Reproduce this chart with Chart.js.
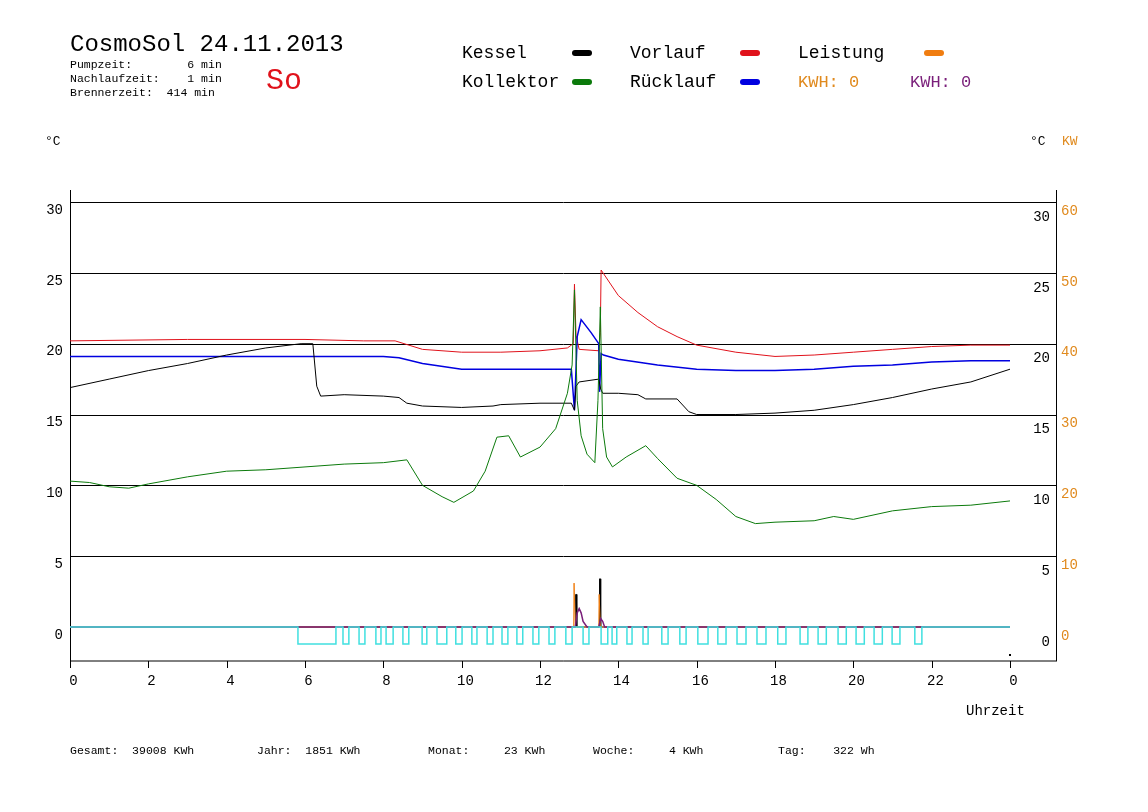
<!DOCTYPE html>
<html><head><meta charset="utf-8">
<script src="https://cdn.jsdelivr.net/npm/chart.js@4"></script>
<style>html,body{margin:0;padding:0;background:#fff}#c{display:block}</style>
</head><body>
<canvas id="c" width="1148" height="812"></canvas>
<script>
// ---- data ----
const kesselH = [0,1,2,3,4,5,5.9,6.2,6.3,6.4,7,8,8.4,8.6,9,10,10.8,11,12,12.8,12.88,12.92,13.0,13.5,13.55,13.6,14,14.5,14.7,15.5,15.8,16,17,18,19,20,21,22,23,24];
const kesselT = [16.9,17.5,18.1,18.6,19.2,19.7,20.0,20.0,17.0,16.3,16.4,16.3,16.2,15.8,15.6,15.5,15.6,15.7,15.8,15.8,15.3,17.0,17.3,17.5,16.8,16.5,16.5,16.4,16.1,16.1,15.2,15.0,15.0,15.1,15.3,15.7,16.2,16.8,17.3,18.2];
const vorlaufH = [0,3,6,7.5,8.3,9,10,11,12,12.7,12.85,12.88,12.92,13.0,13.5,13.54,13.56,14,14.5,15,15.5,16,17,18,19,20,21,22,23,24];
const vorlaufT = [20.2,20.3,20.3,20.2,20.2,19.6,19.4,19.4,19.5,19.7,20.0,24.2,20.6,19.6,19.5,20.8,25.2,23.4,22.2,21.2,20.5,19.9,19.4,19.1,19.2,19.4,19.6,19.8,19.9,19.9];
const ruecklaufH = [0,8,8.4,9,10,11,12,12.8,12.88,12.95,13.05,13.3,13.5,13.52,13.56,13.62,14,15,16,17,18,19,20,21,22,23,24];
const ruecklaufT = [19.1,19.1,19.0,18.6,18.2,18.2,18.2,18.2,15.3,20.5,21.7,20.8,20.0,16.6,19.3,19.2,18.9,18.5,18.2,18.1,18.1,18.2,18.4,18.5,18.7,18.8,18.8];
const kollektorH = [0,0.5,1,1.5,2,3,4,5,6,7,8,8.6,9,9.5,9.8,10.3,10.6,10.9,11.2,11.5,12,12.4,12.7,12.82,12.88,12.95,13.05,13.2,13.4,13.48,13.54,13.6,13.7,13.85,14.2,14.7,15.0,15.5,16,16.5,17,17.5,18,19,19.5,20,21,22,23,24];
const kollektorT = [10.3,10.2,9.9,9.8,10.1,10.6,11.0,11.1,11.3,11.5,11.6,11.8,10.0,9.2,8.8,9.6,11.0,13.4,13.5,12.0,12.7,14.0,16.5,18.5,23.8,16,13.5,12.2,11.6,16.0,22.6,14,12.0,11.3,12.0,12.8,11.9,10.5,10.0,9.0,7.8,7.3,7.4,7.5,7.8,7.6,8.2,8.5,8.6,8.9];
const pumpOff = [[5.82,6.79],[6.97,7.12],[7.38,7.53],[7.81,7.94],[8.07,8.25],[8.50,8.65],[8.99,9.11],[9.37,9.62],[9.85,10.01],[10.26,10.39],[10.65,10.80],[11.03,11.18],[11.41,11.56],[11.82,11.97],[12.23,12.38],[12.66,12.82],[13.10,13.25],[13.56,13.73],[13.84,13.96],[14.22,14.35],[14.63,14.76],[15.11,15.27],[15.57,15.73],[16.03,16.29],[16.54,16.75],[17.03,17.26],[17.54,17.77],[18.07,18.28],[18.64,18.84],[19.10,19.31],[19.61,19.82],[20.07,20.28],[20.53,20.74],[20.99,21.19],[21.57,21.75]];
const pumpLow = -1.2;
const leistungH = [0,12.86,12.87,12.89,12.9,13.5,13.51,13.53,13.54,24];
const leistungT = [0,0,3.1,3.1,0,0,2.3,2.3,0,0];
const brennerH = [0,12.9,12.91,12.93,12.94,13.51,13.52,13.54,13.55,24];
const brennerT = [0,0,2.3,2.3,0,0,3.4,3.4,0,0];
const kwhH = [0,12.9,12.95,13.0,13.05,13.1,13.2,13.5,13.55,13.6,13.65,24];
const kwhT = [0,0,1.0,1.3,1.0,0.4,0,0,0.6,0.4,0,0];
const yTicks = [0,5,10,15,20,25,30];
const xTicks = [0,2,4,6,8,10,12,14,16,18,20,22,24];
const xLabels = ['0','2','4','6','8','10','12','14','16','18','20','22','0'];

const pts=(h,t)=>h.map((x,i)=>({x,y:t[i]}));
const pump=[{x:0,y:0}];
pumpOff.forEach(([a,b])=>{pump.push({x:a,y:0},{x:a,y:pumpLow},{x:b,y:pumpLow},{x:b,y:0});});
pump.push({x:24,y:0});

const F='"Liberation Mono", "DejaVu Sans Mono", monospace';
const ds=(d,c,w=1)=>({data:d,borderColor:c,borderWidth:w,pointRadius:0,fill:false,tension:0});

const deco={id:'deco',
 beforeDatasetsDraw(ch){
  const c=ch.ctx,x=ch.scales.x,y=ch.scales.y;
  const L=x.getPixelForValue(x.min),R=x.getPixelForValue(x.max),T=y.getPixelForValue(y.max),B=y.getPixelForValue(y.min);
  c.save();c.strokeStyle='#000';c.lineWidth=1;
  yTicks.forEach(v=>{if(v===0)return;const p=Math.round(y.getPixelForValue(v))+0.5;c.beginPath();c.moveTo(L,p);c.lineTo(R,p);c.stroke();});
  c.beginPath();c.moveTo(Math.round(L)+0.5,T);c.lineTo(Math.round(L)+0.5,B);c.lineTo(R,B);c.moveTo(Math.round(R)-0.5,T);c.lineTo(Math.round(R)-0.5,B);c.stroke();
  c.font='14px '+F;c.fillStyle='#000';c.textBaseline='middle';
  xTicks.forEach((v,i)=>{const p=Math.round(x.getPixelForValue(v))+0.5;c.beginPath();c.moveTo(p,B);c.lineTo(p,B+7);c.stroke();c.textAlign='center';c.fillText(xLabels[i],p+3,B+20);});
  yTicks.forEach(v=>{const p=y.getPixelForValue(v);
   c.fillStyle='#000';c.textAlign='right';c.fillText(String(v),63,p+8);
   c.fillText(String(v),1050,p+15);
   c.fillStyle='#e08a1e';c.textAlign='left';c.fillText(String(v*2),1061,p+9);});
  c.restore();
 },
 afterDraw(ch){
  const c=ch.ctx;c.save();c.textBaseline='alphabetic';c.textAlign='left';
  const t=(s,x,y,sz,col)=>{c.font=sz+'px '+F;c.fillStyle=col||'#000';c.fillText(s,x,y);};
  t('CosmoSol 24.11.2013',70,51,24);
  t('Pumpzeit:        6 min',70,68,11.5);
  t('Nachlaufzeit:    1 min',70,82,11.5);
  t('Brennerzeit:  414 min',70,96,11.5);
  t('So',266,89,30,'#e0121b');
  t('Kessel',462,58,18);t('Kollektor',462,87,18);
  t('Vorlauf',630,58,18);t('Rücklauf',630,87,18);
  t('Leistung',798,58,18);
  t('KWH: 0',798,87,17,'#e08a1e');t('KWH: 0',910,87,17,'#7a1f7a');
  const pill=(x,y,col)=>{c.strokeStyle=col;c.lineWidth=6;c.lineCap='round';c.beginPath();c.moveTo(x,y);c.lineTo(x+14,y);c.stroke();};
  pill(575,53,'#000');pill(575,82,'#0b7a0b');pill(743,53,'#e0121b');pill(743,82,'#0000e0');pill(927,53,'#f07d10');
  t('°C',45,145,13);t('°C',1030,145,13);t('KW',1062,145,13,'#e08a1e');
  t('Uhrzeit',966,715,14);
  [['Gesamt:  39008 KWh',70],['Jahr:  1851 KWh',257],['Monat:     23 KWh',428],['Woche:     4 KWh',593],['Tag:    322 Wh',778]].forEach(([s,x])=>t(s,x,754,11.5));
  c.fillStyle='#000';c.fillRect(1009,654,2,2);
  c.restore();
 }};

new Chart(document.getElementById('c'),{
 type:'line',
 data:{datasets:[
  ds(pump,'#40e0e0',1.5),
  ds(pts(kwhH,kwhT),'#7a1f7a',1.5),
  ds(pts(leistungH,leistungT),'#f07d10'),
  ds(pts(brennerH,brennerT),'#000'),
  ds(pts(kollektorH,kollektorT),'#0b7a0b'),
  ds(pts(kesselH,kesselT),'#000'),
  ds(pts(ruecklaufH,ruecklaufT),'#0000e0',1.5),
  ds(pts(vorlaufH,vorlaufT),'#e0121b')
 ]},
 options:{responsive:false,animation:false,parsing:true,
  layout:{padding:{left:70,right:91,top:190,bottom:151}},
  plugins:{legend:{display:false},tooltip:{enabled:false}},
  scales:{x:{type:'linear',min:0,max:25.2,display:false},
          y:{type:'linear',min:-2.4,max:30.85,display:false}}},
 plugins:[deco]});
</script></body></html>
